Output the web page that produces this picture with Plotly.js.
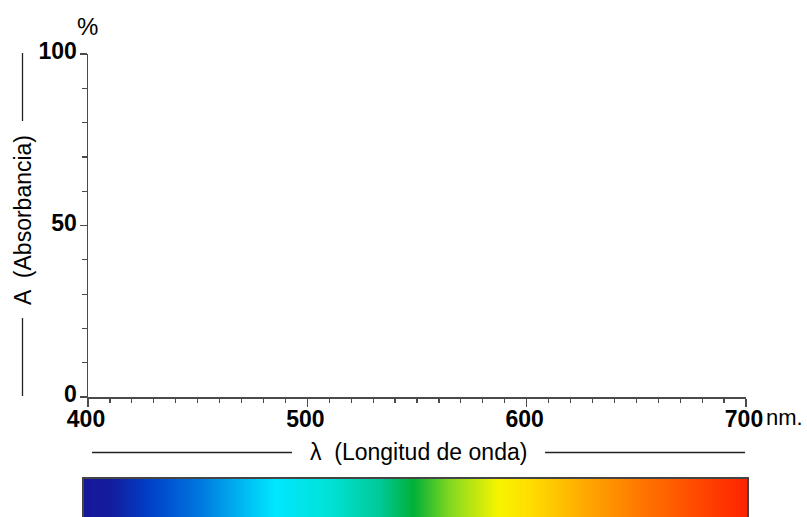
<!DOCTYPE html>
<html>
<head>
<meta charset="utf-8">
<script src="https://cdn.plot.ly/plotly-3.0.1.min.js"></script>
<style>html,body{margin:0;padding:0;background:#fff;}#chart{width:807px;height:517px;}</style>
</head>
<body>
<div id="chart"></div>
<script>
// ---- data ----
const xTickVals = [400, 500, 600, 700];
const xTickText = ["400", "500", "600", "700"];
const yTickVals = [0, 50, 100];
const yTickText = ["0", "50", "100"];
const xRange = [400, 700];
const yRange = [0, 100];
// visible spectrum strip: wavelength (nm) and colour
const spectrumNm  = [400, 410, 428, 451, 474, 485, 510, 533, 548, 565, 587, 601, 624, 652, 679, 700];
const spectrumHex = ["#16189a", "#141c9e", "#0040c8", "#0078e0", "#00c4f4", "#00e6ff", "#00e2d6",
                     "#00c896", "#00b038", "#84d820", "#f8f400", "#ffde00", "#ffae00", "#ff7600", "#ff4600", "#ff2400"];
const xTitle = "\u03bb  (Longitud de onda)";
const yTitle = "A  (Absorbancia)";
const yUnit = "%";
const xUnit = "nm.";

// ---- layout helpers (pixel -> paper) ----
const W = 807, H = 517, L = 84, R = 60, T = 54, B = 0;
const PW = W - L - R, PH = H - T - B;
const px = v => (v - L) / PW;
const py = v => (H - B - v) / PH;

const FONT = '"Liberation Sans", Arial, Helvetica, sans-serif';
const AX = '#4a4a4a';

const colorscale = spectrumNm.map((nm, i) => [(nm - spectrumNm[0]) / (spectrumNm[spectrumNm.length - 1] - spectrumNm[0]), spectrumHex[i]]);

const traces = [
  {type: 'scatter', x: [], y: [], xaxis: 'x', yaxis: 'y', hoverinfo: 'skip', showlegend: false},
  {type: 'heatmap', x: spectrumNm, y: [0], z: [spectrumNm], xaxis: 'x2', yaxis: 'y2',
   colorscale: colorscale, zmin: spectrumNm[0], zmax: spectrumNm[spectrumNm.length - 1],
   zsmooth: 'best', showscale: false, hoverinfo: 'skip'}
];

const tickFont = {family: FONT, size: 23, color: '#000', weight: 700};

const layout = {
  width: W, height: H,
  margin: {l: L, r: R, t: T, b: B, pad: 0},
  paper_bgcolor: '#fff', plot_bgcolor: 'rgba(0,0,0,0)',
  showlegend: false,
  xaxis: {
    domain: [px(88), px(746)], anchor: 'y',
    range: xRange, tickmode: 'array', tickvals: xTickVals, ticktext: xTickText,
    showgrid: false, zeroline: false, showline: true, linecolor: AX, linewidth: 1.5,
    ticks: 'outside', ticklen: 8, tickwidth: 1.5, tickcolor: AX,
    minor: {tickmode: 'linear', tick0: 400, dtick: 10, ticks: 'outside', ticklen: 4, tickwidth: 1.2, tickcolor: AX, showgrid: false},
    tickfont: tickFont, ticklabelstandoff: -7, ticklabelshift: -2, fixedrange: true
  },
  yaxis: {
    domain: [py(397), 1], anchor: 'x',
    range: yRange, tickmode: 'array', tickvals: yTickVals, ticktext: yTickText,
    showgrid: false, zeroline: false, showline: true, linecolor: AX, linewidth: 1.5,
    ticks: 'outside', ticklen: 7, tickwidth: 1.5, tickcolor: AX,
    minor: {tickmode: 'linear', tick0: 0, dtick: 10, ticks: 'outside', ticklen: 5, tickwidth: 1.2, tickcolor: AX, showgrid: false},
    tickfont: tickFont, ticklabelstandoff: -2, ticklabelshift: -3, fixedrange: true
  },
  xaxis2: {
    domain: [0, 1], anchor: 'y2', range: [398.2, 700.5],
    showticklabels: false, ticks: '', showgrid: false, zeroline: false,
    showline: true, mirror: true, linecolor: '#444', linewidth: 2, fixedrange: true
  },
  yaxis2: {
    domain: [0, py(479)], anchor: 'x2', range: [-0.5, 0.5],
    showticklabels: false, ticks: '', showgrid: false, zeroline: false,
    showline: true, mirror: true, linecolor: '#444', linewidth: 2, fixedrange: true
  },
  annotations: [
    {text: yUnit, xref: 'paper', yref: 'paper', x: px(87), y: py(27), xanchor: 'center', yanchor: 'middle',
     showarrow: false, font: {family: FONT, size: 24, color: '#000'}},
    {text: xUnit, xref: 'paper', yref: 'paper', x: px(764), y: py(417), xanchor: 'left', yanchor: 'middle',
     showarrow: false, font: {family: FONT, size: 22, color: '#000'}},
    {text: yTitle, xref: 'paper', yref: 'paper', x: px(23), y: py(220), xanchor: 'center', yanchor: 'middle',
     textangle: -90, showarrow: false, font: {family: FONT, size: 23, color: '#000'}},
    {text: xTitle, xref: 'paper', yref: 'paper', x: px(418), y: py(452), xanchor: 'center', yanchor: 'middle',
     showarrow: false, font: {family: FONT, size: 23, color: '#000'}}
  ],
  shapes: [
    {type: 'line', xref: 'paper', yref: 'paper', x0: px(22.5), x1: px(22.5), y0: py(53), y1: py(121), line: {color: '#222', width: 1.3}},
    {type: 'line', xref: 'paper', yref: 'paper', x0: px(22.5), x1: px(22.5), y0: py(318), y1: py(396), line: {color: '#222', width: 1.3}},
    {type: 'line', xref: 'paper', yref: 'paper', x0: px(92), x1: px(292), y0: py(452.5), y1: py(452.5), line: {color: '#222', width: 1.3}},
    {type: 'line', xref: 'paper', yref: 'paper', x0: px(545), x1: px(745), y0: py(452.5), y1: py(452.5), line: {color: '#222', width: 1.3}}
  ]
};

Plotly.newPlot('chart', traces, layout, {staticPlot: true, displayModeBar: false});
</script>
</body>
</html>
